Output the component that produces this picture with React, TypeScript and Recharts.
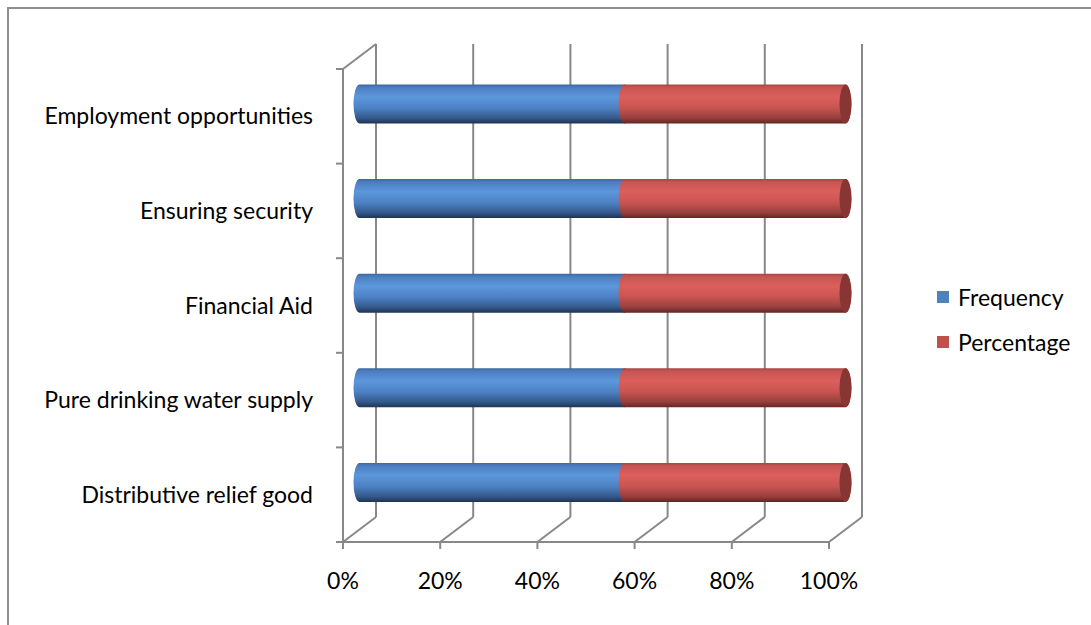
import React from 'react';
import {
  BarChart,
  Bar,
  ScatterChart,
  Scatter,
  XAxis,
  YAxis,
  CartesianGrid,
  Legend,
} from 'recharts';

// Survey responses: priorities of relief support
const categories = [
  'Employment opportunities',
  'Ensuring security',
  'Financial Aid',
  'Pure drinking water supply',
  'Distributive relief good',
];
const frequency = [68, 54, 47, 82, 95];
const percentage = [56.7, 45.0, 39.2, 68.3, 79.2];

const valueTicks = [0, 0.2, 0.4, 0.6, 0.8, 1];
const valueTickLabels = ['0%', '20%', '40%', '60%', '80%', '100%'];
const bandEdges = [0, 1, 2, 3, 4, 5];

const rows = categories.map((name, i) => ({
  name,
  Frequency: frequency[i],
  Percentage: percentage[i],
}));

// anchor points spanning the frame so both frame axes resolve their domains
const frameAnchors = bandEdges.map((edge, i) => ({ share: valueTicks[i], edge }));

const W = 1091;
const H = 625;
const FONT = 'Lato, "Open Sans", sans-serif';
const AXIS = '#888888';
const TEXT_SIZE = 23;

// 3D box: front wall, back wall, and the mid plane the cylinders sit on
const DEPTH_X = 33;
const DEPTH_Y = -25;
const FRONT = { left: 343, top: 69, right: 829, bottom: 542 };

const BLUE = '#4f81bd';
const RED = '#c0504d';

const layer: React.CSSProperties = { position: 'absolute', left: 0, top: 0 };

const XTick = (props: any) => {
  const { x, y, payload, index } = props;
  return (
    <g>
      <line x1={x} y1={y} x2={x} y2={y + 7} stroke={AXIS} strokeWidth={2} />
      <line x1={x} y1={y} x2={x + DEPTH_X} y2={y + DEPTH_Y} stroke={AXIS} strokeWidth={2} />
      <text
        x={x}
        y={y + 47}
        textAnchor="middle"
        fontFamily={FONT}
        fontSize={TEXT_SIZE}
        fill="#000"
      >
        {valueTickLabels[index] ?? `${Math.round(payload.value * 100)}%`}
      </text>
    </g>
  );
};

const EdgeTick = (props: any) => {
  const { x, y, payload } = props;
  return (
    <g>
      <line x1={x - 7} y1={y} x2={x} y2={y} stroke={AXIS} strokeWidth={2} />
      {payload.value === 5 && (
        <line x1={x} y1={y} x2={x + DEPTH_X} y2={y + DEPTH_Y} stroke={AXIS} strokeWidth={2} />
      )}
    </g>
  );
};

const CategoryTick = (props: any) => {
  const { x, y, payload } = props;
  return (
    <text
      x={x - 30}
      y={y + 8}
      textAnchor="end"
      fontFamily={FONT}
      fontSize={TEXT_SIZE}
      fill="#000"
    >
      {payload.value}
    </text>
  );
};

const EmptyTick = () => <g />;

const makeCylinder = (gradId: string, faceColor: string | null) => (props: any) => {
  const { x, y, width, height } = props;
  if (!height || width == null) return <g />;
  const rx = 6;
  const ry = height / 2;
  const x2 = x + width;
  const d = `M${x},${y} L${x2},${y} A${rx},${ry} 0 0 1 ${x2},${y + height} L${x},${y + height} A${rx},${ry} 0 0 1 ${x},${y} Z`;
  return (
    <g>
      <path d={d} fill={`url(#${gradId})`} />
      {faceColor && <ellipse cx={x2} cy={y + ry} rx={rx} ry={ry} fill={faceColor} />}
    </g>
  );
};

const BlueCylinder = makeCylinder('cylBlue', null);
const RedCylinder = makeCylinder('cylRed', '#873634');

const LegendContent = (props: any) => {
  const { payload } = props;
  return (
    <div style={{ fontFamily: FONT, fontSize: TEXT_SIZE, color: '#000' }}>
      {(payload || []).map((entry: any) => (
        <div
          key={entry.value}
          style={{ display: 'flex', alignItems: 'center', height: 45, whiteSpace: 'nowrap' }}
        >
          <span
            style={{
              display: 'inline-block',
              width: 12,
              height: 12,
              background: entry.color,
              marginRight: 9,
            }}
          />
          <span>{entry.value}</span>
        </div>
      ))}
    </div>
  );
};

export default function App() {
  const hiddenAxisHeight = 10;
  const backMargin = {
    left: FRONT.left + DEPTH_X,
    top: FRONT.top + DEPTH_Y,
    right: W - (FRONT.right + DEPTH_X),
    bottom: H - (FRONT.bottom + DEPTH_Y) - hiddenAxisHeight,
  };
  const midMargin = {
    left: FRONT.left + DEPTH_X / 2,
    top: FRONT.top + DEPTH_Y / 2,
    right: W - (FRONT.right + DEPTH_X / 2),
    bottom: H - (FRONT.bottom + DEPTH_Y / 2),
  };
  const edgeAxisWidth = 40;
  const xAxisHeight = 60;
  const frontMargin = {
    left: FRONT.left - edgeAxisWidth,
    top: FRONT.top,
    right: W - FRONT.right,
    bottom: H - FRONT.bottom - xAxisHeight,
  };
  const labelAxisWidth = 330;
  const labelMargin = {
    left: FRONT.left - labelAxisWidth,
    top: FRONT.top,
    right: W - FRONT.right,
    bottom: H - FRONT.bottom,
  };

  return (
    <div
      style={{
        position: 'fixed',
        left: 0,
        top: 0,
        width: W,
        height: H,
        overflow: 'hidden',
        background: '#fff',
      }}
    >
      <div
        style={{
          position: 'absolute',
          left: 7,
          top: 7,
          width: 1200,
          height: 700,
          border: '2px solid #8e8e8e',
        }}
      />

      {/* back wall gridlines */}
      <div style={layer}>
        <ScatterChart width={W} height={H} margin={backMargin}>
          <CartesianGrid horizontal={false} vertical stroke={AXIS} strokeWidth={2} />
          <XAxis
            type="number"
            dataKey="share"
            domain={[0, 1]}
            allowDataOverflow
            ticks={valueTicks}
            interval={0}
            height={hiddenAxisHeight}
            tick={(p: any) => <EmptyTick />}
            tickLine={false}
            axisLine={false}
          />
          <YAxis type="number" dataKey="edge" domain={[0, 5]} allowDataOverflow hide />
          <Scatter data={frameAnchors} fill="none" isAnimationActive={false} />
        </ScatterChart>
      </div>

      {/* front axes, tick marks and floor lines */}
      <div style={layer}>
        <ScatterChart width={W} height={H} margin={frontMargin}>
          <XAxis
            type="number"
            dataKey="share"
            domain={[0, 1]}
            allowDataOverflow
            ticks={valueTicks}
            interval={0}
            height={xAxisHeight}
            tickSize={0}
            tickMargin={0}
            tickLine={false}
            axisLine={{ stroke: AXIS, strokeWidth: 2 }}
            tick={(p: any) => <XTick {...p} />}
          />
          <YAxis
            type="number"
            dataKey="edge"
            domain={[0, 5]}
            allowDataOverflow
            ticks={bandEdges}
            interval={0}
            width={edgeAxisWidth}
            tickSize={0}
            tickMargin={0}
            tickLine={false}
            axisLine={{ stroke: AXIS, strokeWidth: 2 }}
            tick={(p: any) => <EdgeTick {...p} />}
          />
          <Scatter data={frameAnchors} fill="none" isAnimationActive={false} />
        </ScatterChart>
      </div>

      {/* category labels */}
      <div style={layer}>
        <BarChart width={W} height={H} data={rows} layout="vertical" margin={labelMargin}>
          <XAxis type="number" hide />
          <YAxis
            type="category"
            dataKey="name"
            width={labelAxisWidth}
            interval={0}
            tickSize={0}
            tickMargin={0}
            tickLine={false}
            axisLine={false}
            tick={(p: any) => <CategoryTick {...p} />}
          />
          <Bar dataKey="Frequency" fill="transparent" isAnimationActive={false} />
        </BarChart>
      </div>

      {/* cylinders */}
      <div style={layer}>
        <BarChart
          width={W}
          height={H}
          data={rows}
          layout="vertical"
          stackOffset="expand"
          margin={midMargin}
          barSize={39}
        >
          <defs>
            <linearGradient id="cylBlue" x1="0" y1="0" x2="0" y2="1">
              <stop offset="0" stopColor="#3b68a2" />
              <stop offset="0.08" stopColor="#4c7fc1" />
              <stop offset="0.32" stopColor="#5c97dc" />
              <stop offset="0.6" stopColor="#4d82c4" />
              <stop offset="0.86" stopColor="#35598c" />
              <stop offset="1" stopColor="#1d3352" />
            </linearGradient>
            <linearGradient id="cylRed" x1="0" y1="0" x2="0" y2="1">
              <stop offset="0" stopColor="#a84644" />
              <stop offset="0.08" stopColor="#c75552" />
              <stop offset="0.32" stopColor="#dc5f5c" />
              <stop offset="0.6" stopColor="#c85451" />
              <stop offset="0.86" stopColor="#96403d" />
              <stop offset="1" stopColor="#632523" />
            </linearGradient>
          </defs>
          <XAxis type="number" domain={[0, 1]} hide />
          <YAxis type="category" dataKey="name" hide />
          <Bar
            dataKey="Frequency"
            stackId="share"
            fill={BLUE}
            shape={(p: any) => <BlueCylinder {...p} />}
            isAnimationActive={false}
          />
          <Bar
            dataKey="Percentage"
            stackId="share"
            fill={RED}
            shape={(p: any) => <RedCylinder {...p} />}
            isAnimationActive={false}
          />
          <Legend
            layout="vertical"
            align="center"
            verticalAlign="middle"
            content={(p: any) => <LegendContent {...p} />}
            wrapperStyle={{ left: 937, top: 274, width: 150, height: 90 }}
          />
        </BarChart>
      </div>
    </div>
  );
}
